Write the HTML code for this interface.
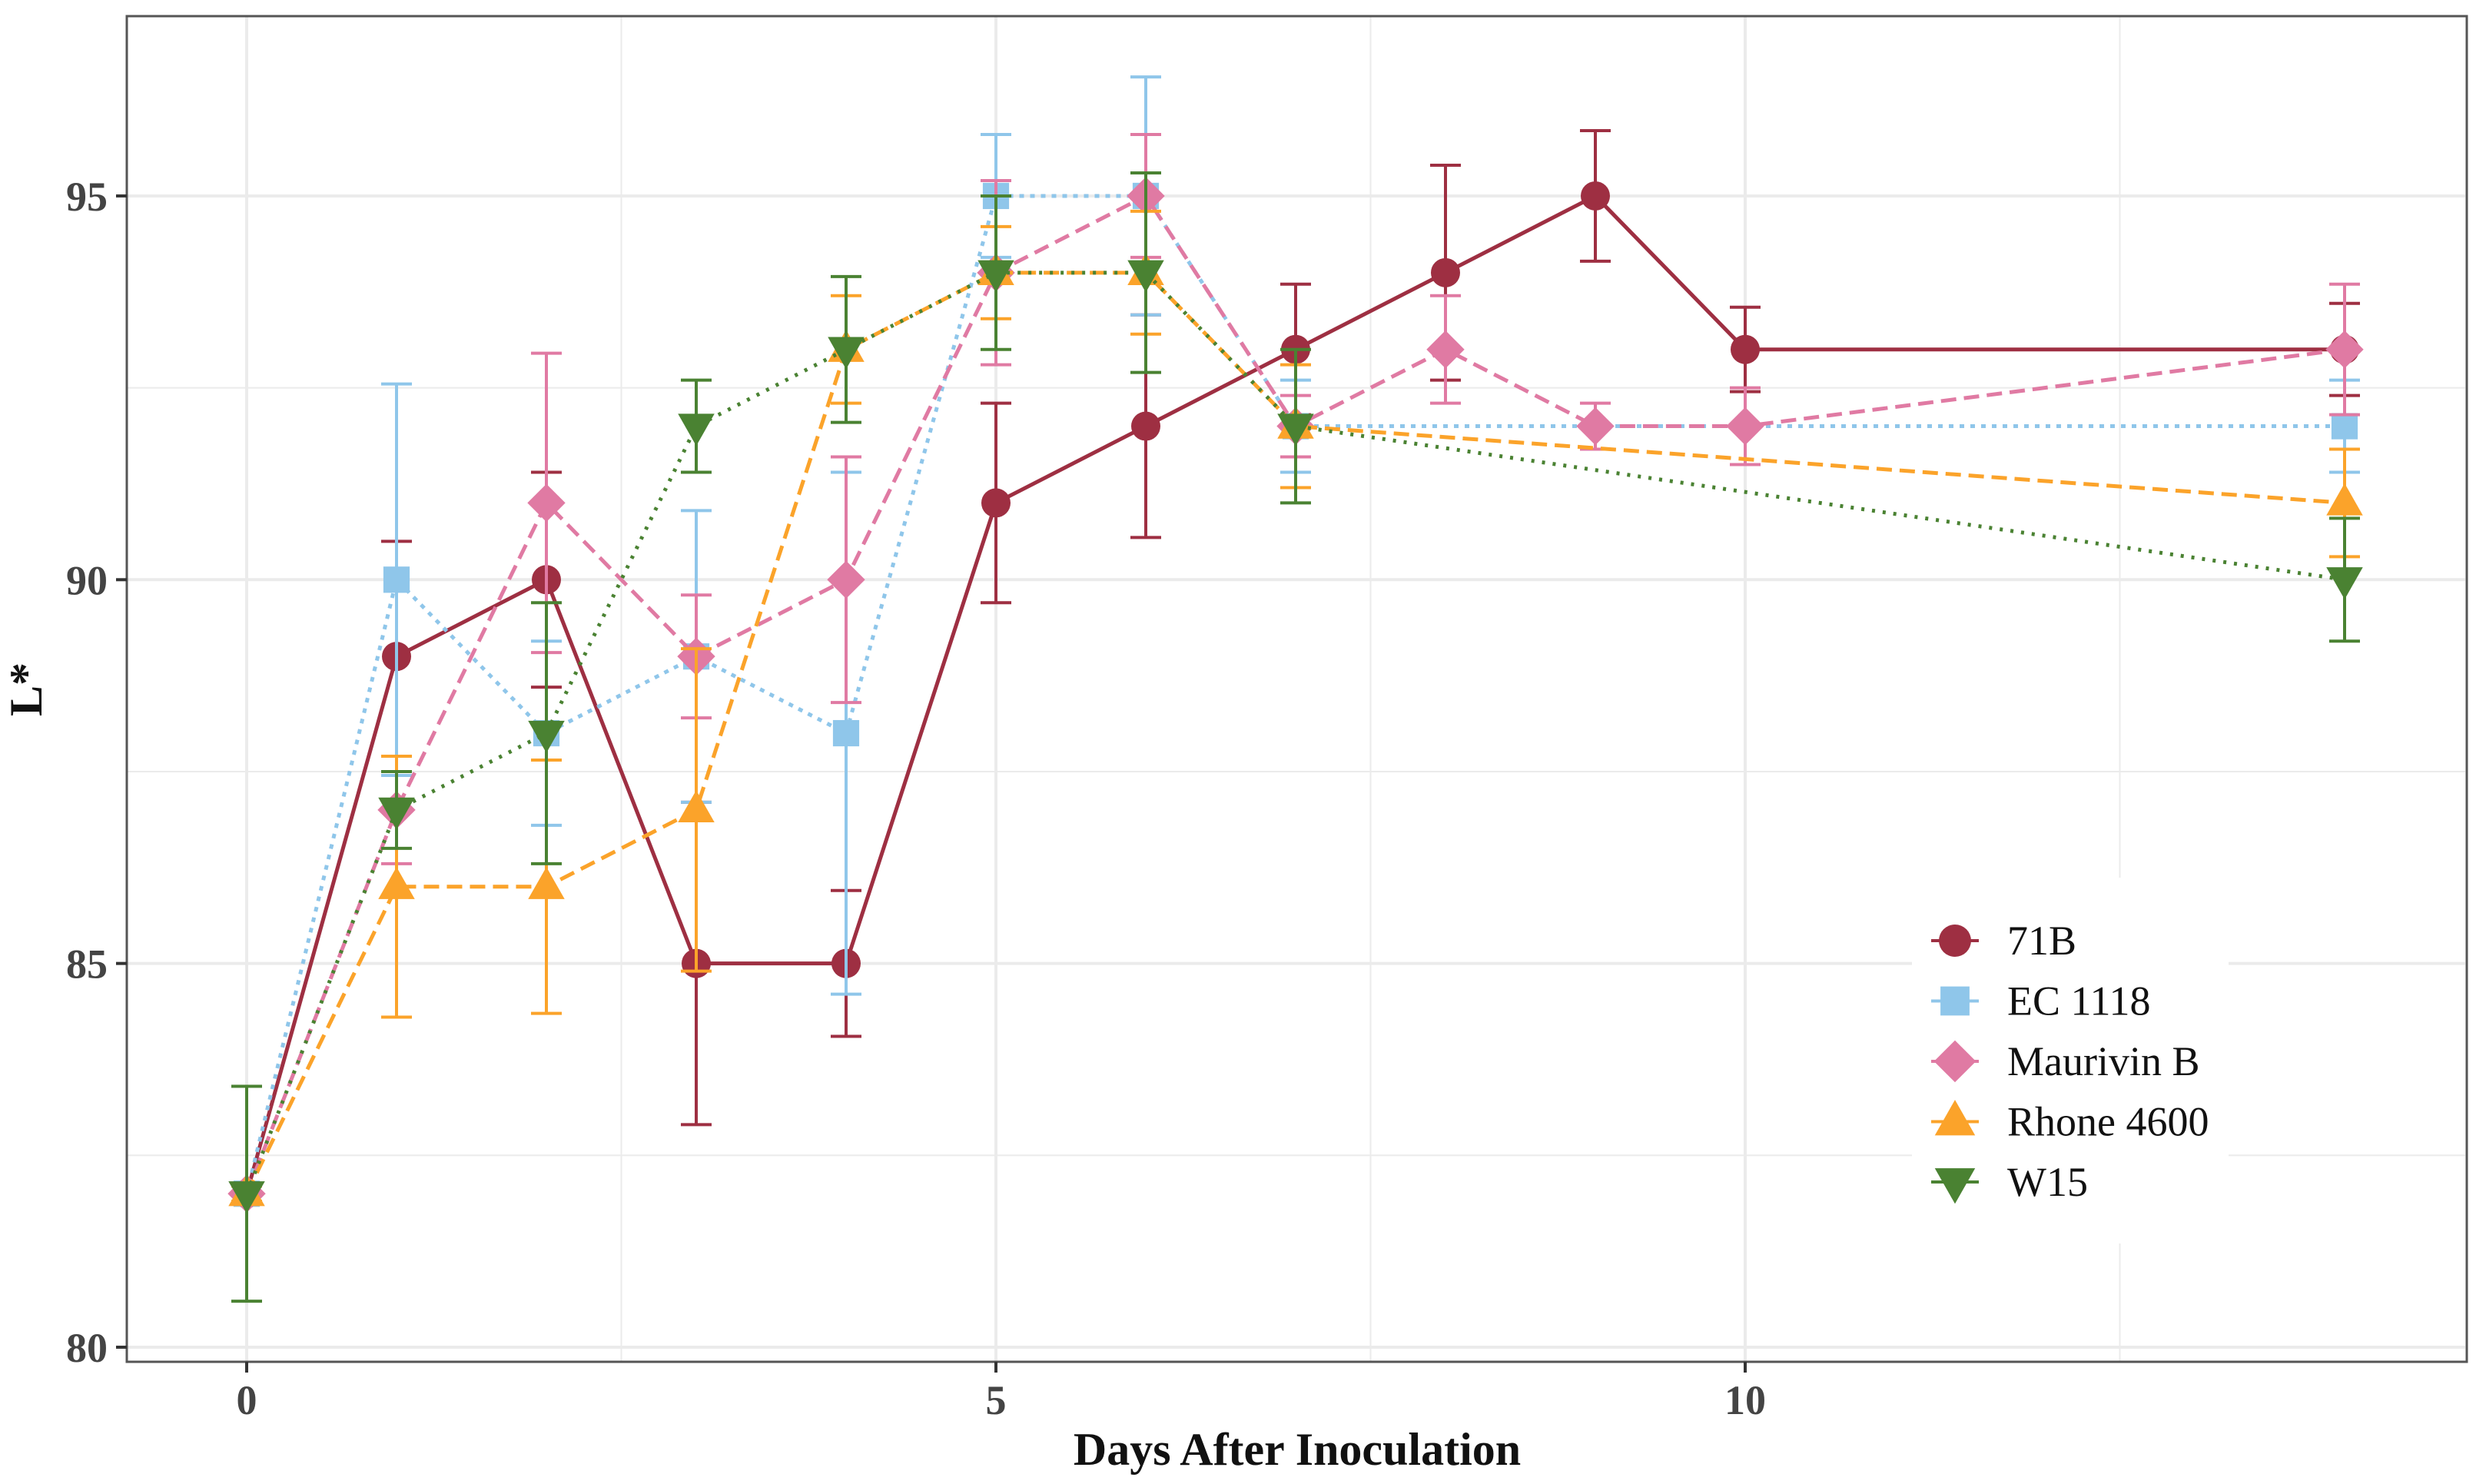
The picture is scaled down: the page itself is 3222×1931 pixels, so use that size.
<!DOCTYPE html>
<html><head><meta charset="utf-8"><style>
html,body{margin:0;padding:0;background:#fff;}
svg{display:block;font-family:"Liberation Serif",serif;}
</style></head><body>
<svg id="chart" width="3222" height="1931" viewBox="0 0 3222 1931" xmlns="http://www.w3.org/2000/svg">
<rect width="3222" height="1931" fill="#fff"/>
<g id="grid"></g>
<g id="series"></g>
<rect x="165" y="21" width="3045" height="1751" fill="none" stroke="#555" stroke-width="3"/>
<g id="axes"></g>
<text x="1688" y="1906" text-anchor="middle" font-size="60" font-weight="bold" fill="#111">Days After Inoculation</text>
<text transform="translate(54,897) rotate(-90)" text-anchor="middle" font-size="60" font-weight="bold" fill="#111">L*</text>
<g id="legend"></g>
</svg>
<script>
const days = [0,1,2,3,4,5,6,7,8,9,10,14];
const xTicks = [0,5,10];
const yTicks = [80,85,90,95];
const names = ["71B","EC 1118","Maurivin B","Rhone 4600","W15"];
const colors = ["#9e2f42","#8fc6ea","#e07aa3","#fba32a","#4a8232"];
const dashes = ["", "6 8", "20 10", "20 10", "4 10"];
const shapes = ["circle","square","diamond","triangle-up","triangle-down"];
const v71B = [82,89,90,85,85,91,92,93,94,95,93,93];
const e71B = [0.1,1.5,1.4,2.1,0.95,1.3,1.45,0.85,1.4,0.85,0.55,0.6];
const vEC = [82,90,88,89,88,95,95,92,null,null,null,92];
const eEC = [0.1,2.55,1.2,1.9,3.4,0.8,1.55,0.6,null,null,null,0.6];
const vMB = [82,87,91,89,90,94,95,92,93,92,92,93];
const eMB = [0.1,0.7,1.95,0.8,1.6,1.2,0.8,0.4,0.7,0.3,0.5,0.85];
const vRh = [82,86,86,87,93,94,94,92,null,null,null,91];
const eRh = [0.1,1.7,1.65,2.1,0.7,0.6,0.8,0.8,null,null,null,0.7];
const vW = [82,87,88,92,93,94,94,92,null,null,null,90];
const eW = [1.4,0.5,1.7,0.6,0.95,1.0,1.3,1.0,null,null,null,0.8];
const allVals = [v71B,vEC,vMB,vRh,vW];
const allErr = [e71B,eEC,eMB,eRh,eW];

const NS="http://www.w3.org/2000/svg";
const X = d => 321 + (d-0)*195;
const Y = v => 1753 - (v-80)*99.87;
function mk(tag, attrs, parent){const e=document.createElementNS(NS,tag);for(const k in attrs)e.setAttribute(k,attrs[k]);parent.appendChild(e);return e;}

const grid=document.getElementById('grid');
for(let d=-2.5; d<=15; d+=2.5){ if(X(d)<166||X(d)>3208) continue;
  const major = xTicks.includes(d);
  const l=mk('line',{x1:X(d),x2:X(d),y1:22,y2:1771,stroke:'#ebebeb','stroke-width':major?4:2},grid);
  
  
}
for(let v=77.5; v<=100; v+=2.5){ if(Y(v)<22||Y(v)>1771) continue;
  const major = yTicks.includes(v);
  const l=mk('line',{x1:166,x2:3208,y1:Y(v),y2:Y(v),stroke:'#ebebeb','stroke-width':major?4:2},grid);
  
  
}
const axes=document.getElementById('axes');
xTicks.forEach(t=>{
  const l=mk('line',{x1:X(t),x2:X(t),y1:1772,y2:1786,stroke:'#333','stroke-width':4},axes);
  
  
  const tx=mk('text',{x:X(t),y:1840,'text-anchor':'middle','font-size':54,'font-weight':'bold',fill:'#444'},axes);
  tx.textContent=t;
  
  
});
yTicks.forEach(t=>{
  const l=mk('line',{x1:151,x2:165,y1:Y(t),y2:Y(t),stroke:'#333','stroke-width':4},axes);
  
  
  const tx=mk('text',{x:140,y:Y(t)+19,'text-anchor':'end','font-size':54,'font-weight':'bold',fill:'#444'},axes);
  tx.textContent=t;
  
  
});

function marker(shape,cx,cy,r,color,parent){
  let e;
  if(shape==='circle') e=mk('circle',{cx:cx,cy:cy,r:r,fill:color},parent);
  else if(shape==='square') e=mk('rect',{x:cx-r*0.9,y:cy-r*0.9,width:r*1.8,height:r*1.8,fill:color},parent);
  else if(shape==='diamond') e=mk('polygon',{points:`${cx},${cy-r*1.3} ${cx+r*1.3},${cy} ${cx},${cy+r*1.3} ${cx-r*1.3},${cy}`,fill:color},parent);
  else if(shape==='triangle-up') e=mk('polygon',{points:`${cx},${cy-r*1.35} ${cx+r*1.25},${cy+r*0.85} ${cx-r*1.25},${cy+r*0.85}`,fill:color},parent);
  else e=mk('polygon',{points:`${cx},${cy+r*1.35} ${cx+r*1.25},${cy-r*0.85} ${cx-r*1.25},${cy-r*0.85}`,fill:color},parent);
  return e;
}

const sl=document.getElementById('series');
allVals.forEach((vals,s)=>{
  const g=mk('g',{},sl);
  
  
  const errs=allErr[s];
  vals.forEach((v,i)=>{ if(v===null) return;
    const e=errs[i], x=X(days[i]);
    const eb=mk('path',{d:`M${x-20},${Y(v+e)}H${x+20}M${x},${Y(v+e)}V${Y(v-e)}M${x-20},${Y(v-e)}H${x+20}`,stroke:colors[s],'stroke-width':4,fill:'none'},g);
    
    
  });
  const pts=[];vals.forEach((v,i)=>{if(v!==null)pts.push(X(days[i])+','+Y(v));});
  const pl=mk('polyline',{points:pts.join(' '),fill:'none',stroke:colors[s],'stroke-width':5},g);
  if(dashes[s]) pl.setAttribute('stroke-dasharray',dashes[s]);
  
  
  vals.forEach((v,i)=>{ if(v===null) return;
    const m=marker(shapes[s],X(days[i]),Y(v),19,colors[s],g);
    
    
  });
});

const lg=document.getElementById('legend');
const bg=mk('rect',{x:2488,y:1142,width:412,height:476,fill:'#fff'},lg);


names.forEach((n,s)=>{
  const y=1224+s*78.5;
  const g=mk('g',{},lg);
  
  
  const ln=mk('line',{x1:2513,x2:2575,y1:y,y2:y,stroke:colors[s],'stroke-width':4},g);
  
  
  const m=marker(shapes[s],2544,y,21,colors[s],g);
  
  
  const t=mk('text',{x:2612,y:y+18,'font-size':54,fill:'#111'},g);
  t.textContent=n;
  
  
});
</script>
</body></html>
